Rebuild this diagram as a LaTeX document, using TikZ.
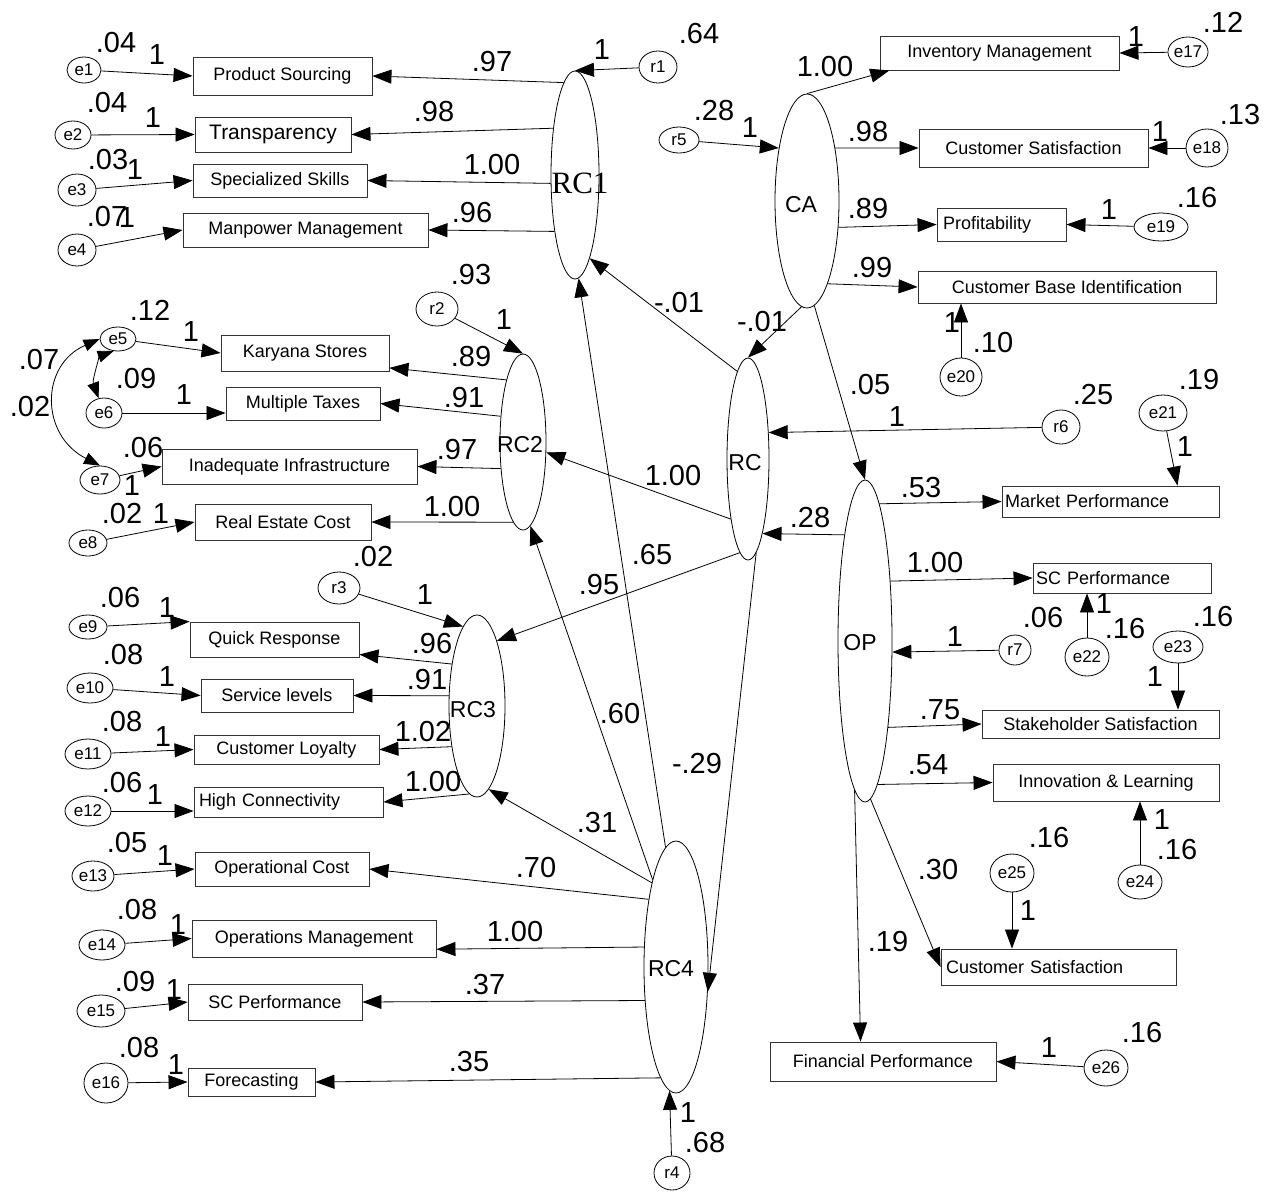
\documentclass[tikz,border=0pt]{standalone}
\usepackage{fontspec}
\setmainfont{Liberation Sans}
\newfontfamily\serifRC{Liberation Serif}
\usetikzlibrary{shapes.geometric,arrows.meta,calc}
\begin{document}
\begin{tikzpicture}[x=1pt,y=-1pt,
  lat/.style={draw,ellipse,inner sep=0pt,line width=0.8pt},
  err/.style={draw,ellipse,inner sep=0pt,line width=0.8pt,font=\fontsize{17}{17}\selectfont},
  box/.style={draw=black!80,rectangle,inner sep=0pt,line width=0.9pt,font=\fontsize{18}{18}\selectfont},
  lbox/.style={box,inner xsep=5pt,align=left,text width=#1},
  num/.style={inner sep=0pt,font=\fontsize{29}{29}\selectfont},
  lt/.style={inner sep=0pt,font=\fontsize{23}{23}\selectfont},
  pth/.style={draw,line width=0.8pt,-{Triangle[length=19pt,width=14pt]}},
  cov/.style={draw,line width=0.8pt,{Triangle[length=16pt,width=12pt]}-{Triangle[length=16pt,width=12pt]}}
]
\fill[white] (0,0) rectangle (1277,1192);
\useasboundingbox (0,0) rectangle (1277,1192);

% latent variables
\node[lat,minimum width=48pt,minimum height=208pt] (RC1) at (575,175) {};
\node[lat,minimum width=64pt,minimum height=214pt] (CA) at (807,201) {};
\node[lat,minimum width=46pt,minimum height=176pt] (RC2) at (523,442) {};
\node[lat,minimum width=42pt,minimum height=202pt] (RC) at (748,459) {};
\node[lat,minimum width=56pt,minimum height=182pt] (RC3) at (477,706) {};
\node[lat,minimum width=54pt,minimum height=322pt] (OP) at (865,641) {};
\node[lat,minimum width=64pt,minimum height=252pt] (RC4) at (676,967) {};
\node[inner sep=0pt,font=\serifRC\fontsize{31}{31}\selectfont] (tRC1) at (580,183) {RC1};
\node[lt] (tCA) at (801,205) {CA};
\node[lt] (tRC2) at (520,445) {RC2};
\node[lt] (tRC) at (745,463) {RC};
\node[lt] (tRC3) at (473,710) {RC3};
\node[lt] (tOP) at (860,643) {OP};
\node[lt] (tRC4) at (671,969) {RC4};

% boxes
\node[box,minimum width=179pt,minimum height=38pt] (PS) at (282.5,76) {Product Sourcing};
\node[box,minimum width=156pt,minimum height=35pt,font=\fontsize{21}{21}\selectfont] (TR) at (273,134.5) {Transparency};
\node[box,minimum width=174pt,minimum height=33pt] (SS) at (280,180.5) {Specialized Skills};
\node[box,minimum width=245pt,minimum height=34pt] (MM) at (305.5,230) {Manpower Management};
\node[box,minimum width=168pt,minimum height=36pt] (KS) at (305,353) {Karyana Stores};
\node[box,minimum width=154pt,minimum height=33pt] (MT) at (303,403.5) {Multiple Taxes};
\node[box,minimum width=255pt,minimum height=35pt] (II) at (289.5,466.5) {Inadequate Infrastructure};
\node[box,minimum width=176pt,minimum height=36pt] (RE) at (283,522) {Real Estate Cost};
\node[box,minimum width=169pt,minimum height=35pt] (QR) at (274.5,639.5) {Quick Response};
\node[box,minimum width=152pt,minimum height=33pt] (SL) at (277,695.5) {Service levels};
\node[box,minimum width=185pt,minimum height=29pt] (CL) at (286.5,749.5) {Customer Loyalty};
\node[lbox=179pt,minimum width=189pt,minimum height=30pt] (HC) at (288.5,802) {High Connectivity};
\node[box,minimum width=174pt,minimum height=34pt] (OC) at (282,869) {Operational Cost};
\node[box,minimum width=244pt,minimum height=37pt] (OM) at (314,938.5) {Operations Management};
\node[box,minimum width=174pt,minimum height=36pt] (SCL) at (275,1002) {SC Performance};
\node[box,minimum width=127pt,minimum height=28pt] (FC) at (251.5,1082) {Forecasting};
\node[box,minimum width=239pt,minimum height=34pt] (IM) at (999.5,53) {Inventory Management};
\node[box,minimum width=229pt,minimum height=38pt] (CS1) at (1033.5,148) {Customer Satisfaction};
\node[lbox=117pt,minimum width=129pt,minimum height=33pt,inner xsep=6pt] (PR) at (1001.5,224.5) {Profitability};
\node[box,minimum width=298pt,minimum height=32pt] (CBI) at (1067,287) {Customer Base Identification};
\node[lbox=211pt,minimum width=217pt,minimum height=31pt,inner xsep=3pt] (MP) at (1110.5,501.5) {Market Performance};
\node[lbox=172pt,minimum width=178pt,minimum height=30pt,inner xsep=3pt] (SCR) at (1122,578) {SC Performance};
\node[box,minimum width=237pt,minimum height=28pt] (SH) at (1100.5,724) {Stakeholder Satisfaction};
\node[box,minimum width=226pt,minimum height=37pt] (IL) at (1106,782.5) {Innovation \& Learning};
\node[lbox=225pt,minimum width=235pt,minimum height=36pt] (CS2) at (1058.5,967) {Customer Satisfaction};
\node[box,minimum width=226pt,minimum height=39pt] (FP) at (883,1061.5) {Financial Performance};

% error and residual terms
\node[err,minimum width=34pt,minimum height=26pt] (e1) at (84,70) {e1};
\node[err,minimum width=36pt,minimum height=28pt] (e2) at (73,135) {e2};
\node[err,minimum width=38pt,minimum height=32pt] (e3) at (77,190) {e3};
\node[err,minimum width=38pt,minimum height=32pt] (e4) at (77,250) {e4};
\node[err,minimum width=36pt,minimum height=24pt] (e5) at (118,339) {e5};
\node[err,minimum width=36pt,minimum height=30pt] (e6) at (104,413) {e6};
\node[err,minimum width=40pt,minimum height=28pt] (e7) at (100,480) {e7};
\node[err,minimum width=38pt,minimum height=26pt] (e8) at (88,543) {e8};
\node[err,minimum width=38pt,minimum height=24pt] (e9) at (88,627) {e9};
\node[err,minimum width=46pt,minimum height=30pt] (e10) at (90,688) {e10};
\node[err,minimum width=46pt,minimum height=30pt] (e11) at (88,754) {e11};
\node[err,minimum width=46pt,minimum height=30pt] (e12) at (88,811) {e12};
\node[err,minimum width=42pt,minimum height=30pt] (e13) at (93,876) {e13};
\node[err,minimum width=46pt,minimum height=30pt] (e14) at (102,945) {e14};
\node[err,minimum width=48pt,minimum height=32pt] (e15) at (101,1011) {e15};
\node[err,minimum width=44pt,minimum height=40pt] (e16) at (106,1083) {e16};
\node[err,minimum width=38pt,minimum height=32pt] (r1) at (658,67) {r1};
\node[err,minimum width=42pt,minimum height=34pt] (r2) at (437,309) {r2};
\node[err,minimum width=42pt,minimum height=32pt] (r3) at (339,588) {r3};
\node[err,minimum width=36pt,minimum height=34pt] (r4) at (672,1173) {r4};
\node[err,minimum width=40pt,minimum height=26pt] (r5) at (679,140) {r5};
\node[err,minimum width=38pt,minimum height=34pt] (r6) at (1061,427) {r6};
\node[err,minimum width=32pt,minimum height=30pt] (r7) at (1015,650) {r7};
\node[err,minimum width=40pt,minimum height=30pt] (e17) at (1188,52) {e17};
\node[err,minimum width=42pt,minimum height=38pt] (e18) at (1207,148) {e18};
\node[err,minimum width=54pt,minimum height=28pt] (e19) at (1161,227) {e19};
\node[err,minimum width=42pt,minimum height=38pt] (e20) at (961,377) {e20};
\node[err,minimum width=48pt,minimum height=36pt] (e21) at (1163,413) {e21};
\node[err,minimum width=44pt,minimum height=38pt] (e22) at (1087,657) {e22};
\node[err,minimum width=50pt,minimum height=32pt] (e23) at (1178,647) {e23};
\node[err,minimum width=44pt,minimum height=34pt] (e24) at (1140,882) {e24};
\node[err,minimum width=44pt,minimum height=38pt] (e25) at (1012,873) {e25};
\node[err,minimum width=44pt,minimum height=36pt] (e26) at (1106,1068) {e26};

% error -> indicator
\draw[pth] (e1) -- (PS.west);
\draw[pth] (e2) -- (TR.west);
\draw[pth] (e3) -- (SS.west);
\draw[pth] (e4) -- (MM.west);
\draw[pth] (e5) -- (KS.west);
\draw[pth] (e6) -- (e6 -| MT.west);
\draw[pth] (e7) -- (II.west);
\draw[pth] (e8) -- (RE.west);
\draw[pth] (e9) -- (QR.north west);
\draw[pth] (e10) -- (SL.west);
\draw[pth] (e11) -- (CL.west);
\draw[pth] (e12) -- (e12 -| HC.west);
\draw[pth] (e13) -- (OC.west);
\draw[pth] (e14) -- (OM.west);
\draw[pth] (e15) -- (SCL.west);
\draw[pth] (e16) -- (FC.west);
\draw[pth] (e17) -- (IM.east);
\draw[pth] (e18) -- (CS1.east);
\draw[pth] (e19) -- (PR.east);
\draw[pth] (e20) -- (e20 |- CBI.south);
\draw[pth] (e21) -- ($(MP.north)+(67,0)$);
\draw[pth] (e22) -- (e22 |- SCR.south);
\draw[pth] (e23) -- (e23 |- SH.north);
\draw[pth] (e24) -- (e24 |- IL.south);
\draw[pth] (e25) -- (e25 |- CS2.north);
\draw[pth] (e26) -- (FP.east);

% covariances
\draw[cov] (e5.west) .. controls (40,365) and (40,435) .. (e7.north);
\draw[cov] (e5.250) .. controls (100,356) and (92,380) .. (e6.110);

% residuals
\draw[pth] (r1) -- (RC1.north);
\draw[pth] (r2) -- (RC2.north);
\draw[pth] (r3) -- (RC3.100);
\draw[pth] (r4) -- (RC4.267);
\draw[pth] (r5) -- (CA.118);
\draw[pth] (r6) -- (RC.52);
\draw[pth] (r7) -- (OP.-22);

% loadings
\draw[pth] (RC1.97) -- (PS.east);
\draw[pth] (RC1.115) -- (TR.east);
\draw[pth] (RC1.199) -- (SS.east);
\draw[pth] (RC1.250) -- (MM.east);
\draw[pth] (RC2.105) -- (KS.-10);
\draw[pth] (RC2.131) -- (MT.east);
\draw[pth] (RC2.230) -- (II.east);
\draw[pth] (RC2.263) -- (RE.east);
\draw[pth] (RC3.121) -- (QR.-10);
\draw[pth] (RC3.160) -- (SL.east);
\draw[pth] (RC3.238) -- (CL.east);
\draw[pth] (RC3.265) -- (HC.east);
\draw[pth] (RC4.112) -- (OC.east);
\draw[pth] (RC4.148) -- (OM.-5);
\draw[pth] (RC4.227) -- (SCL.east);
\draw[pth] (RC4.262) -- (FC.east);
\draw[pth] (CA.north) -- (IM.189);
\draw[pth] (CA.62) -- (CS1.west);
\draw[pth] (CA.-40) -- (PR.west);
\draw[pth] (CA.-76) -- (CBI.west);
\draw[pth] (OP.84) -- (MP.west);
\draw[pth] (OP.67) -- (SCR.west);
\draw[pth] (OP.-75) -- (SH.west);
\draw[pth] (OP.-85) -- (IL.west);
\draw[pth] (OP.-88) -- (CS2.west);
\draw[pth] (OP.-94) -- ($(FP.north west)+(91,0)$);

% structural paths
\draw[pth] (CA.-93) -- (RC.north);
\draw[pth] (CA.-86) -- (OP.north);
\draw[pth] (RC.97) -- (RC1.-80);
\draw[pth] (RC.254) -- (RC2.-24);
\draw[pth] (RC.-95) -- (RC3.73);
\draw[pth] (RC.-85) -- (RC4.-38);
\draw[pth] (OP.101) -- (RC.-79);
\draw[pth] (RC4.95) -- (RC1.-88);
\draw[pth] (RC4.105) -- (RC2.-85);
\draw[pth] (RC4.106) -- (RC3.-82);

% numeric labels
\node[num] (L1) at (116,43) {.04};
\node[num] (L2) at (157,55) {1};
\node[num] (L3) at (107,103) {.04};
\node[num] (L4) at (153,118) {1};
\node[num] (L5) at (108,160) {.03};
\node[num] (L6) at (135,170) {1};
\node[num] (L7) at (107,217) {.07};
\node[num] (L8) at (127,218) {1};
\node[num] (L9) at (492,62) {.97};
\node[num] (L10) at (434,112) {.98};
\node[num] (L11) at (492,165) {1.00};
\node[num] (L12) at (472,213) {.96};
\node[num] (L13) at (602,50) {1};
\node[num] (L14) at (699,34) {.64};
\node[num] (L15) at (714,111) {.28};
\node[num] (L16) at (750,128) {1};
\node[num] (L17) at (825,67) {1.00};
\node[num] (L18) at (868,132) {.98};
\node[num] (L19) at (868,209) {.89};
\node[num] (L20) at (872,268) {.99};
\node[num] (L21) at (1223,22) {.12};
\node[num] (L22) at (1136,37) {1};
\node[num] (L23) at (1240,115) {.13};
\node[num] (L24) at (1160,132) {1};
\node[num] (L25) at (1197,198) {.16};
\node[num] (L26) at (1109,210) {1};
\node[num] (L27) at (952,323) {1};
\node[num] (L28) at (993,343) {.10};
\node[num] (L29) at (471,275) {.93};
\node[num] (L30) at (504,320) {1};
\node[num] (L31) at (150,310) {.12};
\node[num] (L32) at (191,332) {1};
\node[num] (L33) at (136,379) {.09};
\node[num] (L34) at (184,395) {1};
\node[num] (L35) at (143,448) {.06};
\node[num] (L36) at (132,486) {1};
\node[num] (L37) at (122,514) {.02};
\node[num] (L38) at (161,514) {1};
\node[num] (L39) at (471,357) {.89};
\node[num] (L40) at (464,398) {.91};
\node[num] (L41) at (457,450) {.97};
\node[num] (L42) at (452,507) {1.00};
\node[num] (L43) at (39,360) {.07};
\node[num] (L44) at (30,407) {.02};
\node[num] (L45) at (679,303) {-.01};
\node[num] (L46) at (762,322) {-.01};
\node[num] (L47) at (870,385) {.05};
\node[num] (L48) at (897,417) {1};
\node[num] (L49) at (1093,395) {.25};
\node[num] (L50) at (1199,380) {.19};
\node[num] (L51) at (1185,447) {1};
\node[num] (L52) at (921,488) {.53};
\node[num] (L53) at (810,518) {.28};
\node[num] (L54) at (673,476) {1.00};
\node[num] (L55) at (652,555) {.65};
\node[num] (L56) at (599,585) {.95};
\node[num] (L57) at (620,714) {.60};
\node[num] (L58) at (697,764) {-.29};
\node[num] (L59) at (597,823) {.31};
\node[num] (L60) at (373,557) {.02};
\node[num] (L61) at (425,595) {1};
\node[num] (L62) at (120,598) {.06};
\node[num] (L63) at (167,608) {1};
\node[num] (L64) at (123,655) {.08};
\node[num] (L65) at (167,677) {1};
\node[num] (L66) at (122,722) {.08};
\node[num] (L67) at (163,737) {1};
\node[num] (L68) at (122,783) {.06};
\node[num] (L69) at (155,795) {1};
\node[num] (L70) at (432,644) {.96};
\node[num] (L71) at (427,680) {.91};
\node[num] (L72) at (423,732) {1.02};
\node[num] (L73) at (433,782) {1.00};
\node[num] (L74) at (127,843) {.05};
\node[num] (L75) at (165,856) {1};
\node[num] (L76) at (137,910) {.08};
\node[num] (L77) at (178,925) {1};
\node[num] (L78) at (135,982) {.09};
\node[num] (L79) at (174,990) {1};
\node[num] (L80) at (139,1048) {.08};
\node[num] (L81) at (176,1065) {1};
\node[num] (L82) at (536,868) {.70};
\node[num] (L83) at (515,932) {1.00};
\node[num] (L84) at (485,985) {.37};
\node[num] (L85) at (469,1062) {.35};
\node[num] (L86) at (688,1113) {1};
\node[num] (L87) at (705,1142) {.68};
\node[num] (L88) at (935,563) {1.00};
\node[num] (L89) at (955,637) {1};
\node[num] (L90) at (1043,618) {.06};
\node[num] (L91) at (1104,604) {1};
\node[num] (L92) at (1125,629) {.16};
\node[num] (L93) at (1213,617) {.16};
\node[num] (L94) at (1155,677) {1};
\node[num] (L95) at (940,710) {.75};
\node[num] (L96) at (928,765) {.54};
\node[num] (L97) at (1162,820) {1};
\node[num] (L98) at (1177,850) {.16};
\node[num] (L99) at (1049,838) {.16};
\node[num] (L100) at (1028,911) {1};
\node[num] (L101) at (938,870) {.30};
\node[num] (L102) at (888,942) {.19};
\node[num] (L103) at (1049,1048) {1};
\node[num] (L104) at (1142,1033) {.16};
\end{tikzpicture}
\end{document}
